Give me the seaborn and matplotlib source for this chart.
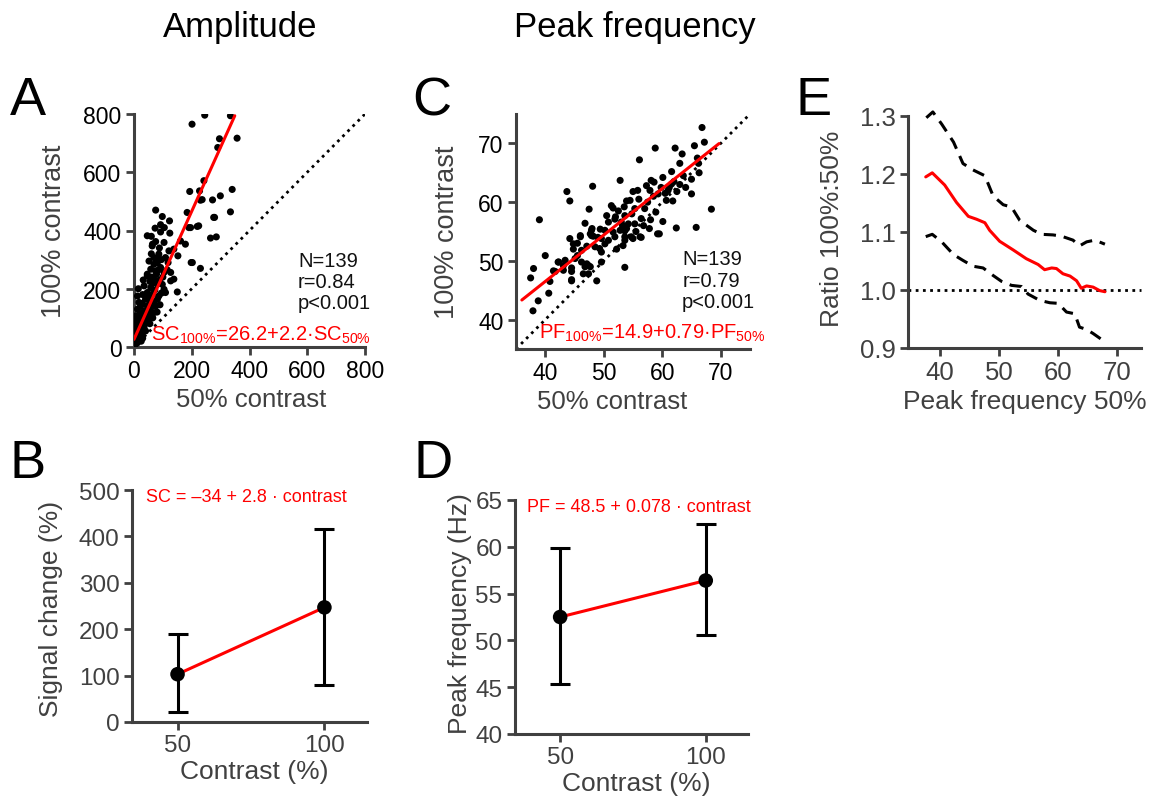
import numpy as np
import pandas as pd
import matplotlib
matplotlib.use('Agg')
import matplotlib.pyplot as plt
import seaborn as sns

# ---- data ----
# A: signal change, 50% vs 100% contrast
amp_50 = [201, 245, 334, 357, 296, 290, 242, 193, 227, 230, 236, 340, 299, 272, 334, 279, 219, 190, 184, 265,
          285, 198, 230, 75, 98, 123, 92, 73, 124, 46, 104, 75, 63, 86, 81, 138, 161, 178, 152, 109,
          69, 58, 92, 127, 46, 69, 35, 98, 127, 109, 150, 46, 12, 81, 23, 58, 40, 12, 69, 17,
          6, 12, 64, 121, 69, 81, 75, 104, 138, 46, 58, 81, 104, 64, 86, 17, 40, 46, 69, 12,
          35, 58, 6, 23, 40, 6, 23, 6, 17, 6, 2, 202, 196, 224, 276, 52, 60, 88, 95, 78,
          88, 62, 55, 72, 95, 50, 30, 28, 55, 75, 90, 20, 45, 30, 50, 10, 35, 20, 12, 28,
          40, 8, 18, 25, 8, 30, 55, 65, 80, 100, 115, 85, 70, 118, 60, 92, 105, 32, 15]
amp_100 = [765, 796, 794, 717, 715, 685, 571, 534, 536, 504, 506, 541, 519, 505, 464, 445, 414, 410, 462, 374,
           378, 290, 270, 470, 448, 433, 420, 408, 391, 382, 359, 362, 347, 319, 301, 336, 364, 353, 313, 307,
           284, 267, 273, 256, 244, 233, 210, 215, 227, 187, 189, 187, 175, 164, 141, 135, 106, 95, 118, 72,
           49, 15, 353, 330, 307, 290, 261, 256, 233, 250, 204, 216, 198, 181, 175, 153, 164, 141, 153, 130,
           124, 112, 107, 95, 84, 72, 61, 50, 38, 26, 4, 290, 410, 416, 445, 295, 320, 340, 300, 250,
           230, 240, 225, 195, 185, 170, 180, 150, 150, 140, 145, 115, 120, 100, 95, 85, 70, 80, 60, 45,
           55, 35, 25, 20, 12, 30, 80, 100, 120, 240, 265, 265, 220, 290, 380, 395, 410, 230, 200]
amp_fit = (26.2, 2.2)

# C: peak frequency, 50% vs 100% contrast
pf_50 = [66.8, 67.2, 65.5, 62.2, 58.8, 63.4, 56.1, 63.0, 66.2, 61.6, 66.3, 65.0, 60.1, 58.6, 58.1, 52.8, 48.1, 43.7,
         44.2, 39.0, 55.0, 53.9, 61.2, 65.0, 68.4, 65.8, 62.4, 60.1, 59.5, 59.2, 56.4, 58.9, 51.6, 47.5, 46.8, 47.9,
         46.0, 44.2, 50.5, 51.9, 53.2, 53.6, 49.4, 49.3, 53.3, 53.6, 48.8, 47.4, 47.4, 46.2, 44.5, 44.5, 45.5, 43.1,
         42.3, 41.4, 40.0, 38.0, 37.5, 40.8, 40.6, 38.8, 37.9, 46.0, 47.7, 48.0, 48.2, 44.8, 46.2, 45.1, 43.4, 42.2,
         41.7, 43.1, 44.5, 44.5, 47.1, 46.8, 47.7, 46.5, 49.6, 49.6, 50.2, 49.6, 48.5, 47.1, 44.8, 50.8, 51.6, 51.9,
         52.8, 50.2, 51.3, 53.5, 53.0, 54.2, 47.9, 55.0, 53.6, 57.3, 57.9, 59.3, 61.6, 61.0, 60.7, 55.8, 54.5, 55.3,
         57.0, 56.4, 55.3, 53.9, 54.7, 56.2, 53.6, 53.6, 52.0, 52.5, 54.8, 56.0, 57.5, 58.5, 59.8, 60.5, 62.0, 63.0,
         62.5, 64.0, 56.8, 57.8, 58.0, 50.8, 52.2, 55.5, 61.8, 63.6, 49.0, 45.5, 66.0]
pf_100 = [72.7, 70.2, 69.6, 69.2, 69.2, 68.2, 67.2, 66.6, 66.6, 65.2, 65.0, 63.9, 64.2, 63.4, 63.7, 63.7, 62.7, 61.8,
          60.2, 57.0, 61.8, 60.2, 62.5, 61.4, 58.8, 55.7, 55.6, 56.7, 54.6, 54.6, 54.0, 58.3, 59.0, 58.8, 56.4, 54.3,
          54.3, 53.8, 57.7, 57.1, 56.0, 55.1, 55.4, 52.1, 52.6, 48.9, 46.6, 49.2, 47.8, 49.8, 46.6, 48.2, 50.9, 49.2,
          49.8, 48.3, 50.9, 48.7, 47.1, 46.5, 44.5, 43.2, 41.5, 54.1, 54.6, 55.5, 54.2, 52.0, 51.8, 50.4, 50.1, 49.8,
          48.2, 48.4, 48.8, 46.8, 49.5, 49.0, 49.0, 47.8, 49.8, 51.5, 52.9, 53.8, 52.4, 52.5, 52.9, 56.6, 54.9, 54.1,
          55.2, 55.2, 59.4, 59.2, 56.6, 56.3, 55.2, 53.8, 54.1, 62.8, 62.0, 61.4, 63.1, 62.0, 60.3, 62.0, 60.3, 58.9,
          58.9, 57.2, 56.3, 55.5, 54.1, 54.1, 53.5, 57.7, 57.5, 58.5, 58.0, 60.5, 60.0, 61.0, 62.5, 61.5, 63.5, 63.0,
          61.8, 62.5, 56.0, 55.5, 57.0, 53.5, 52.0, 55.0, 60.2, 64.5, 54.0, 53.0, 67.5]
pf_fit = (14.9, 0.79)

# B / D: group means with error bars
contrast = [50, 100]
sc_mean = [103, 247]
sc_low = [22, 79]
sc_high = [190, 416]
pf_mean = [52.5, 56.4]
pf_low = [45.3, 50.6]
pf_high = [59.9, 62.4]

# E: ratio 100%:50% vs peak frequency
e_x_mid = [37.6, 38.7, 40.8, 42.8, 44.8, 46.2, 47.6, 48.4, 50.1, 52.4, 54.6, 56.6, 57.7, 58.9, 59.7,
           60.8, 62.0, 63.1, 63.9, 64.8, 65.9, 67.0, 67.9]
e_ratio = [1.195, 1.202, 1.181, 1.151, 1.127, 1.122, 1.116, 1.103, 1.084, 1.069, 1.054, 1.044, 1.035, 1.038, 1.037,
           1.028, 1.024, 1.016, 1.003, 1.007, 1.005, 0.999, 0.997]
e_x_up = [37.7, 38.8, 40.3, 42.3, 43.9, 45.6, 47.6, 49.0, 50.7, 52.1, 53.5, 55.8, 57.2, 59.1, 60.5, 62.5,
          63.6, 64.8, 66.2, 67.9]
e_upper = [1.297, 1.307, 1.286, 1.255, 1.218, 1.207, 1.197, 1.162, 1.147, 1.143, 1.120, 1.103, 1.096, 1.095,
           1.093, 1.086, 1.076, 1.083, 1.086, 1.079]
e_x_lo = [37.6, 38.7, 40.3, 42.3, 43.9, 45.6, 47.3, 49.0, 50.4, 52.1, 53.8, 54.9, 56.9, 58.6, 60.0, 61.4,
          62.8, 63.6, 64.8, 65.9, 67.3]
e_lower = [1.092, 1.096, 1.083, 1.061, 1.051, 1.041, 1.038, 1.025, 1.015, 1.008, 1.006, 0.993, 0.982, 0.978,
           0.977, 0.962, 0.959, 0.936, 0.932, 0.925, 0.915]

# ---- style ----
sns.set_style('ticks')
plt.rcParams['font.family'] = ['Liberation Sans', 'DejaVu Sans']
plt.rcParams['text.color'] = 'black'
plt.rcParams['mathtext.fontset'] = 'custom'
plt.rcParams['mathtext.rm'] = 'Liberation Sans'
plt.rcParams['mathtext.it'] = 'Liberation Sans:italic'

GRAY = '#404040'
RED = '#ff0000'

fig = plt.figure(figsize=(11.5, 8.03), dpi=100)
W, H = 1150, 803


def add_ax(left, top, right, bottom):
    return fig.add_axes([left / W, 1 - bottom / H, (right - left) / W, (bottom - top) / H])


axA = add_ax(134, 115, 365, 348)
axC = add_ax(516, 115, 750, 350)
axE = add_ax(908, 117, 1141, 349)
axB = add_ax(132, 491, 367, 723)
axD = add_ax(515, 501, 748, 735)


def style(ax, tick_color, tick_size):
    sns.despine(ax=ax)
    for s in ['left', 'bottom']:
        ax.spines[s].set_linewidth(2.2)
        ax.spines[s].set_color(GRAY)
    ax.tick_params(width=2, length=6, color=GRAY, labelsize=tick_size, labelcolor=tick_color, pad=3)


# A
dfA = pd.DataFrame({'x': amp_50, 'y': amp_100})
sns.lineplot(x=[0, 800], y=[0, 800], ax=axA, color='black', lw=2, linestyle=(0, (1, 1.6)))
sns.scatterplot(data=dfA, x='x', y='y', ax=axA, color='black', s=26, edgecolor='none', zorder=3)
xa = np.array([0, 349])
sns.lineplot(x=xa, y=amp_fit[0] + amp_fit[1] * xa, ax=axA, color=RED, lw=2.2, zorder=4)
axA.set_xlim(0, 800)
axA.set_ylim(0, 800)
axA.set_xticks(range(0, 801, 200))
axA.set_yticks(range(0, 801, 200))
style(axA, 'black', 16.5)
axA.text(568, 278, 'N=139', fontsize=14.5, color='#111111')
axA.text(568, 206, 'r=0.84', fontsize=14.5, color='#111111')
axA.text(568, 134, 'p<0.001', fontsize=14.5, color='#111111')
axA.text(60, 26, r'SC$_{\mathrm{100\%}}$=26.2+2.2·SC$_{\mathrm{50\%}}$', fontsize=14.5, color=RED, clip_on=False)
axA.set_xlabel('50% contrast', fontsize=18.5, color=GRAY)
axA.set_ylabel('100% contrast', fontsize=19.5, color=GRAY)
axA.xaxis.set_label_coords(0.506, -0.17)
axA.yaxis.set_label_coords(-0.29, 0.5)

# C
dfC = pd.DataFrame({'x': pf_50, 'y': pf_100})
sns.lineplot(x=[35, 75], y=[35, 75], ax=axC, color='black', lw=2, linestyle=(0, (1, 1.6)))
sns.scatterplot(data=dfC, x='x', y='y', ax=axC, color='black', s=26, edgecolor='none', zorder=3)
xc = np.array([36.0, 69.7])
sns.lineplot(x=xc, y=pf_fit[0] + pf_fit[1] * xc, ax=axC, color=RED, lw=2.2, zorder=4)
axC.set_xlim(35, 75)
axC.set_ylim(35, 75)
axC.set_xticks(range(40, 71, 10))
axC.set_yticks(range(40, 71, 10))
style(axC, 'black', 16.5)
axC.text(63.4, 49.4, 'N=139', fontsize=14.5, color='#111111')
axC.text(63.4, 45.8, 'r=0.79', fontsize=14.5, color='#111111')
axC.text(63.4, 42.1, 'p<0.001', fontsize=14.5, color='#111111')
axC.text(39.0, 37.0, r'PF$_{\mathrm{100\%}}$=14.9+0.79·PF$_{\mathrm{50\%}}$', fontsize=14.5, color=RED, clip_on=False)
axC.set_xlabel('50% contrast', fontsize=18.5, color=GRAY)
axC.set_ylabel('100% contrast', fontsize=19.5, color=GRAY)
axC.xaxis.set_label_coords(0.41, -0.17)
axC.yaxis.set_label_coords(-0.24, 0.5)

# E
axE.axhline(1.0, color='black', lw=2, linestyle=(0, (1, 1.6)))
sns.lineplot(x=e_x_up, y=e_upper, ax=axE, color='black', lw=2.2, linestyle=(0, (4, 2.6)))
sns.lineplot(x=e_x_lo, y=e_lower, ax=axE, color='black', lw=2.2, linestyle=(0, (4, 2.6)))
sns.lineplot(x=e_x_mid, y=e_ratio, ax=axE, color=RED, lw=2.2)
for ln in axE.lines:
    ln.set_clip_on(False)
axE.set_xlim(34.6, 74)
axE.set_ylim(0.9, 1.3)
axE.set_xticks(range(40, 71, 10))
axE.set_yticks([0.9, 1.0, 1.1, 1.2, 1.3])
axE.yaxis.set_major_formatter(matplotlib.ticker.FormatStrFormatter('%.1f'))
style(axE, GRAY, 18.5)
axE.set_xlabel('Peak frequency 50%', fontsize=19, color=GRAY)
axE.set_ylabel('Ratio 100%:50%', fontsize=19, color=GRAY)
axE.xaxis.set_label_coords(0.5, -0.175)
axE.yaxis.set_label_coords(-0.275, 0.52)


def group_panel(ax, mean, low, high):
    mean = np.array(mean)
    yerr = [mean - np.array(low), np.array(high) - mean]
    sns.lineplot(x=contrast, y=mean, ax=ax, color=RED, lw=2.2, zorder=2)
    ax.errorbar(contrast, mean, yerr=yerr, fmt='none', ecolor='black', elinewidth=2.2,
                capsize=7, capthick=2.2, zorder=3)
    sns.scatterplot(x=contrast, y=mean, ax=ax, color='black', s=110, edgecolor='none', zorder=4)
    ax.set_xlim(34.5, 114.5)
    ax.set_xticks(contrast)


# B
group_panel(axB, sc_mean, sc_low, sc_high)
axB.set_ylim(0, 500)
axB.set_yticks(range(0, 501, 100))
style(axB, GRAY, 17.5)
axB.text(39.3, 476, 'SC = \u201334 + 2.8 · contrast', fontsize=13, color=RED)
axB.set_xlabel('Contrast (%)', fontsize=19, color=GRAY)
axB.set_ylabel('Signal change (%)', fontsize=19, color=GRAY)
axB.xaxis.set_label_coords(0.52, -0.16)
axB.yaxis.set_label_coords(-0.295, 0.49)

# D
group_panel(axD, pf_mean, pf_low, pf_high)
axD.set_ylim(40, 65)
axD.set_yticks(range(40, 66, 5))
style(axD, GRAY, 17.5)
axD.text(38.5, 63.8, 'PF = 48.5 + 0.078 · contrast', fontsize=13, color=RED, clip_on=False)
axD.set_xlabel('Contrast (%)', fontsize=19, color=GRAY)
axD.set_ylabel('Peak frequency (Hz)', fontsize=19, color=GRAY)
axD.xaxis.set_label_coords(0.52, -0.16)
axD.yaxis.set_label_coords(-0.185, 0.52)

# titles and panel letters
fig.text(240 / W, 1 - 37 / H, 'Amplitude', fontsize=25, ha='center', va='baseline', color='black')
fig.text(635 / W, 1 - 37 / H, 'Peak frequency', fontsize=25, ha='center', va='baseline', color='black')
for letter, x, y in [('A', 10, 115), ('C', 412, 115), ('E', 795, 115), ('B', 10, 478), ('D', 413, 478)]:
    fig.text(x / W, 1 - y / H, letter, fontsize=39, ha='left', va='baseline', color='black')

fig.savefig('out.png', dpi=100)
